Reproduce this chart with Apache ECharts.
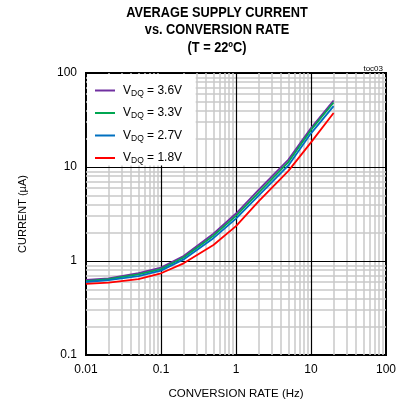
<!DOCTYPE html>
<html><head><meta charset="utf-8">
<script src="https://cdn.jsdelivr.net/npm/echarts@6/dist/echarts.min.js"></script>
<style>html,body{margin:0;padding:0;background:#fff}#c{width:404px;height:408px}</style>
</head><body><div id="c"></div>
<script>
const rates = [0.01, 0.02, 0.05, 0.1, 0.2, 0.5, 1, 2, 5, 10, 20];
const i36 = [0.63, 0.655, 0.745, 0.85, 1.13, 1.95, 3.2, 5.7, 12.0, 26.0, 51.0];
const i33 = [0.612, 0.64, 0.72, 0.82, 1.09, 1.86, 3.02, 5.35, 11.3, 24.8, 48.5];
const i27 = [0.598, 0.625, 0.69, 0.79, 1.04, 1.75, 2.82, 4.95, 10.4, 22.8, 44.5];
const i18 = [0.57, 0.59, 0.64, 0.74, 0.945, 1.48, 2.35, 4.3, 9.1, 18.3, 37.5];
const seriesNames = ['3.6V', '3.3V', '2.7V', '1.8V'];
const xTicks = ['0.01', '0.1', '1', '10', '100'];
const yTicks = ['0.1', '1', '10', '100'];
const colors = ['#7030A0', '#00A651', '#0070C0', '#FF0000'];
const titleLines = ['AVERAGE SUPPLY CURRENT', 'vs. CONVERSION RATE', '(T = 22ºC)'];

const FONT = "'Liberation Sans',Arial,sans-serif";
const minorX = [], minorY = [], majorX = [], majorY = [];
[0.01, 0.1, 1, 10].forEach(d => { for (let k = 2; k <= 9; k++) minorX.push({xAxis: +(d * k).toPrecision(3)}); });
[0.1, 1, 10].forEach(d => { for (let k = 2; k <= 9; k++) minorY.push({yAxis: +(d * k).toPrecision(3)}); });
[0.1, 1, 10].forEach(v => majorX.push({xAxis: v}));
[1, 10].forEach(v => majorY.push({yAxis: v}));

const allData = [i36, i33, i27, i18];
const fmt = v => String(+(+v).toPrecision(3));

const chart = echarts.init(document.getElementById('c'), null, {renderer: 'canvas'});
chart.setOption({
  animation: false,
  backgroundColor: '#fff',
  title: [{
    text: 'toc03', right: 16, top: 60,
    textStyle: {fontFamily: FONT, fontWeight: 'normal', fontSize: 8, color: '#000'}
  }],
  graphic: titleLines.map((t, i) => ({
    type: 'text', x: 217, y: 5 + i * 17.5, scaleX: 0.88, silent: true,
    style: {text: t, fontFamily: FONT, fontWeight: 'bold', fontSize: 14.5, fill: '#000', textAlign: 'center', textVerticalAlign: 'top'}
  })),
  grid: {left: 86, right: 18, top: 73, bottom: 53, show: true, borderColor: '#000', borderWidth: 2, backgroundColor: '#fff'},
  xAxis: {
    type: 'log', logBase: 10, min: 0.01, max: 100,
    name: 'CONVERSION RATE (Hz)', nameLocation: 'middle', nameGap: 33,
    nameTextStyle: {fontFamily: FONT, fontSize: 11.5, color: '#000'},
    axisLine: {show: false}, axisTick: {show: false}, splitLine: {show: false},
    axisLabel: {fontFamily: FONT, fontSize: 12, color: '#000', margin: 9, formatter: v => { const s = fmt(v); return xTicks.includes(s) ? s : ''; }}
  },
  yAxis: {
    type: 'log', logBase: 10, min: 0.1, max: 100,
    name: 'CURRENT (µA)', nameLocation: 'middle', nameGap: 58,
    nameTextStyle: {fontFamily: FONT, fontSize: 11, color: '#000'},
    axisLine: {show: false}, axisTick: {show: false}, splitLine: {show: false},
    axisLabel: {fontFamily: FONT, fontSize: 12, color: '#000', margin: 9, formatter: v => { const s = fmt(v); return yTicks.includes(s) ? s : ''; }}
  },
  legend: {
    orient: 'vertical', left: 90, top: 78, itemGap: 7.5, itemWidth: 20, itemHeight: 2, icon: 'rect',
    z: 10,
    data: seriesNames.map(n => 'VDQ = ' + n),
    formatter: n => '{v|V}{s|DQ}{v|' + n.slice(3) + '}',
    textStyle: {
      fontFamily: FONT, color: '#000', padding: [0, 0, 0, 3],
      rich: {
        v: {fontFamily: FONT, fontSize: 12, color: '#000', lineHeight: 14},
        s: {fontFamily: FONT, fontSize: 8.5, color: '#000', lineHeight: 14, padding: [6, 0, 0, 0]}
      }
    }
  },
  series: [
    {type: 'line', data: [], z: 1, silent: true,
     markLine: {z: 1, silent: true, symbol: ['none', 'none'], label: {show: false}, animation: false,
       lineStyle: {type: 'solid', color: '#c8c8c8', width: 1.5}, data: minorX.concat(minorY)}},
    {type: 'line', data: [], z: 1, silent: true,
     markLine: {z: 2, silent: true, symbol: ['none', 'none'], label: {show: false}, animation: false,
       lineStyle: {type: 'solid', color: '#000', width: 1.2}, data: majorX.concat(majorY)}},
    {type: 'line', data: [], z: 1, silent: true,
     markArea: {z: 4, silent: true, animation: false, itemStyle: {color: '#fff', opacity: 1},
       data: [[{xAxis: 0.0103, yAxis: 10.4}, {xAxis: 0.29, yAxis: 97.5}]]}}
  ].concat(allData.map((arr, i) => ({
    name: 'VDQ = ' + seriesNames[i], type: 'line', z: 3,
    data: rates.map((r, j) => [r, arr[j]]),
    showSymbol: false, symbol: 'none',
    lineStyle: {color: colors[i], width: 1.8}, itemStyle: {color: colors[i]}
  })))
});
</script></body></html>
